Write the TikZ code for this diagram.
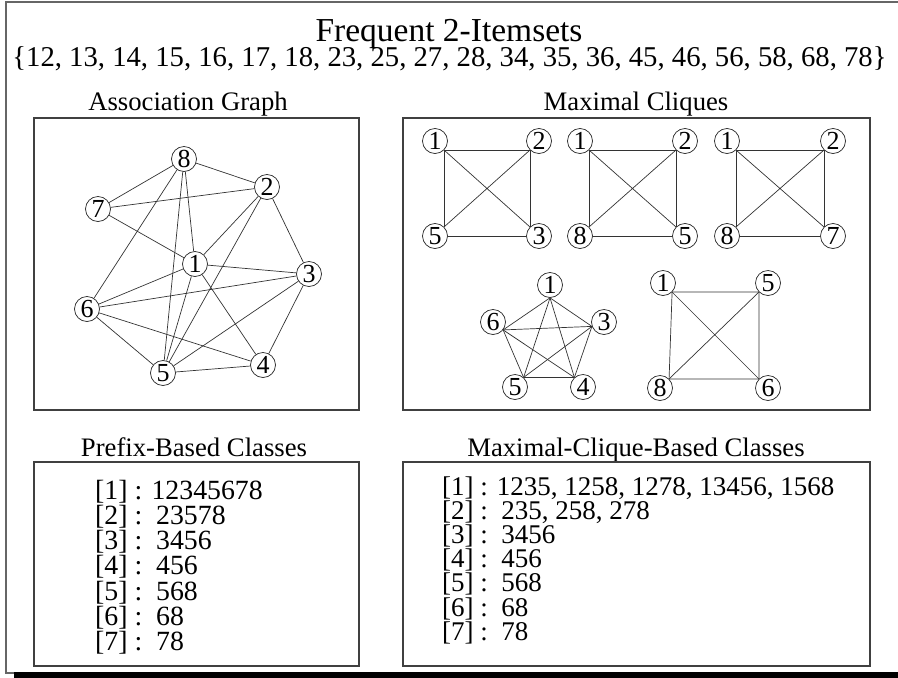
\documentclass[tikz,border=0pt]{standalone}
\usepackage{fontspec}
\setmainfont{Liberation Serif}

\tikzset{
    item/.style={draw=black!85, line width=0.7pt, circle, fill=white, inner sep=0pt,
        minimum size=25pt, font=\fontsize{26}{26}\selectfont},
    link/.style={black!80, line width=0.7pt},
    panel/.style={draw=black!75, line width=1.3pt},
    heading/.style={anchor=base, font=\fontsize{26.7}{26.7}\selectfont},
    classline/.style={anchor=base west, inner sep=0pt, font=\fontsize{27.8}{27.8}\selectfont},
}

\begin{document}
\begin{tikzpicture}[x=1pt, y=-1pt]
    \useasboundingbox (0,0) rectangle (898,678);

    % Outer frame
    \draw[black!60, line width=2pt] (898,2) -- (6,2) -- (6,673) -- (14,673);
    \fill[black] (14,672) rectangle (898,678);

    % Title and itemsets
    \node[anchor=base, font=\fontsize{33.5}{33.5}\selectfont] (title) at (449,41) {Frequent 2-Itemsets};
    \node[anchor=base, font=\fontsize{28.7}{28.7}\selectfont] (itemsets) at (449.5,66)
        {\{12, 13, 14, 15, 16, 17, 18, 23, 25, 27, 28, 34, 35, 36, 45, 46, 56, 58, 68, 78\}};

    % Association Graph
    \node[heading] (assochead) at (188,110) {Association Graph};
    \draw[panel] (34,118) rectangle (359,410);
    \foreach \n/\x/\y in {8/184/159, 2/267/187, 7/98/209, 1/195/264,
                          3/309/274, 6/87/309, 4/263/365, 5/163/373}
        \node[item] (a\n) at (\x,\y) {\n};
    \foreach \u/\v in {1/2, 1/3, 1/4, 1/5, 1/6, 1/7, 1/8, 2/3, 2/5, 2/7,
                       2/8, 3/4, 3/5, 3/6, 4/5, 4/6, 5/6, 5/8, 6/8, 7/8}
        \draw[link] (a\u) -- (a\v);

    % Maximal Cliques
    \node[heading] (cliquehead) at (636,110) {Maximal Cliques};
    \draw[panel] (403,118) rectangle (870,410);

    % clique 1235
    \begin{scope}[shift={(435,141)}]
        \foreach \n/\x/\y in {1/0/0, 2/104/0, 5/0/95, 3/104/95}
            \node[item] (ca\n) at (\x,\y) {\n};
        \draw[link] (ca5.north east) -- (ca1.south east) -- (ca2.south west) -- (ca3.north west);
        \draw[link] (ca5.east) -- (ca3.west);
        \draw[link] (ca1.south east) -- (ca3.north west) (ca2.south west) -- (ca5.north east);
    \end{scope}

    % clique 1258
    \begin{scope}[shift={(580,141)}]
        \foreach \n/\x/\y in {1/0/0, 2/105/0, 8/0/95, 5/105/95}
            \node[item] (cb\n) at (\x,\y) {\n};
        \draw[link] (cb8.north east) -- (cb1.south east) -- (cb2.south west) -- (cb5.north west);
        \draw[link] (cb8.east) -- (cb5.west);
        \draw[link] (cb1.south east) -- (cb5.north west) (cb2.south west) -- (cb8.north east);
    \end{scope}

    % clique 1278
    \begin{scope}[shift={(727,141)}]
        \foreach \n/\x/\y in {1/0/0, 2/106/0, 8/0/95, 7/106/95}
            \node[item] (cc\n) at (\x,\y) {\n};
        \draw[link] (cc8.north east) -- (cc1.south east) -- (cc2.south west) -- (cc7.north west);
        \draw[link] (cc8.east) -- (cc7.west);
        \draw[link] (cc1.south east) -- (cc7.north west) (cc2.south west) -- (cc8.north east);
    \end{scope}

    % clique 13456
    \begin{scope}[shift={(550,285)}]
        \foreach \n/\x/\y in {1/0/0, 6/-57/37, 3/54/37, 5/-35/102, 4/33/102}
            \node[item] (cd\n) at (\x,\y) {\n};
        \coordinate (d1) at (cd1.south);
        \coordinate (d6) at (cd6.-38);
        \coordinate (d3) at (cd3.-160);
        \coordinate (d5) at (cd5.48);
        \coordinate (d4) at (cd4.132);
        \foreach \u/\v in {1/3, 1/4, 1/5, 1/6, 3/4, 3/5, 3/6, 4/5, 4/6, 5/6}
            \draw[link] (d\u) -- (d\v);
    \end{scope}

    % clique 1568
    \begin{scope}[shift={(663,283)}]
        \foreach \n/\x/\y in {1/0/0, 5/105/0, 8/-3/105, 6/105/105}
            \node[item] (ce\n) at (\x,\y) {\n};
        \draw[link] (ce1.south east) -- (ce5.south west) -- (ce6.north west)
            -- (ce8.north east) -- cycle;
        \draw[link] (ce1.south east) -- (ce6.north west) (ce5.south west) -- (ce8.north east);
    \end{scope}

    % Prefix-Based Classes
    \node[heading] (prefixhead) at (194,456) {Prefix-Based Classes};
    \draw[panel] (34,462) rectangle (359,666);
    \node[classline] (pc1) at (95,499) {[1] : 12345678};
    \foreach \i/\txt in {2/23578, 3/3456, 4/456, 5/568, 6/68, 7/78}
        \node[classline] (pc\i) at (95,{499+(\i-1)*25.3}) {[\i] :\ \ \txt};

    % Maximal-Clique-Based Classes
    \node[heading] (mcliquehead) at (636,456) {Maximal-Clique-Based Classes};
    \draw[panel] (403,462) rectangle (870,666);
    \node[classline, font=\fontsize{27}{27}\selectfont] (mc1) at (442,495)
        {[1] : 1235, 1258, 1278, 13456, 1568};
    \foreach \i/\txt in {2/{235, 258, 278}, 3/3456, 4/456, 5/568, 6/68, 7/78}
        \node[classline, font=\fontsize{27}{27}\selectfont] (mc\i) at (442,{495+(\i-1)*24.2})
            {[\i] :\ \ \txt};

\end{tikzpicture}
\end{document}
